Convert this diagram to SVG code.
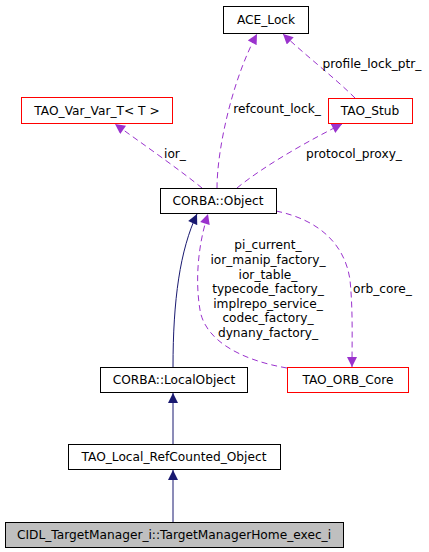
<svg xmlns="http://www.w3.org/2000/svg" width="429" height="552" viewBox="0 0 429 552">
<style>
text{font-family:"DejaVu Sans","Liberation Sans",sans-serif;font-size:12.2px;fill:#000}
.n{fill:#fff;stroke:#000;stroke-width:1}
.r{fill:#fff;stroke:#ff0000;stroke-width:1}
.g{fill:#bfbfbf;stroke:#000;stroke-width:1}
.c{text-anchor:middle}
.inh{fill:none;stroke:#191970;stroke-width:1}
.use{fill:none;stroke:#9a32cd;stroke-width:1;stroke-dasharray:6,4}
</style>
<defs>
<marker id="an" viewBox="0 0 10 10" refX="10" refY="5" markerWidth="11" markerHeight="10" markerUnits="userSpaceOnUse" orient="auto"><path d="M0,0L10,5L0,10z" fill="#191970"/></marker>
<marker id="ap" viewBox="0 0 10 10" refX="10" refY="5" markerWidth="11" markerHeight="10" markerUnits="userSpaceOnUse" orient="auto"><path d="M0,0L10,5L0,10z" fill="#9a32cd"/></marker>
</defs>
<g id="connectors">
<path class="use" d="M217,188 C217,150 232,80 257,34" marker-end="url(#ap)"/>
<text class="c" x="277" y="113">refcount_lock_</text>
<path class="use" d="M355,98 C335,78 305,55 283,34" marker-end="url(#ap)"/>
<text class="c" x="372" y="68">profile_lock_ptr_</text>
<path class="use" d="M202,188 C180,170 140,142 115,124" marker-end="url(#ap)"/>
<text class="c" x="175" y="158">ior_</text>
<path class="use" d="M237,188 C265,165 310,140 342,124" marker-end="url(#ap)"/>
<text class="c" x="354" y="158">protocol_proxy_</text>
<path class="inh" d="M173,367 C173,300 180,250 197,214" marker-end="url(#an)"/>
<path class="use" d="M287,368 C240,360 205,340 200,310 C195,280 198,245 208,214" marker-end="url(#ap)"/>
<text class="c" x="268" y="249">pi_current_</text>
<text class="c" x="268" y="264">ior_manip_factory_</text>
<text class="c" x="268" y="279">ior_table_</text>
<text class="c" x="268" y="293">typecode_factory_</text>
<text class="c" x="268" y="308">implrepo_service_</text>
<text class="c" x="268" y="322">codec_factory_</text>
<text class="c" x="268" y="337">dynany_factory_</text>
<path class="use" d="M276,211 C320,220 345,245 350,280 C353,310 352,340 352,367" marker-end="url(#ap)"/>
<text x="353" y="293">orb_core_</text>
<path class="inh" d="M173,444 L173,393" marker-end="url(#an)"/>
<path class="inh" d="M173,522 L173,470" marker-end="url(#an)"/>
</g>
<g id="ACE_Lock"><rect class="n" x="223.5" y="6.5" width="85" height="27"/><text class="c" x="266" y="24">ACE_Lock</text></g>
<g id="TAO_Var_Var_T"><rect class="r" x="21.5" y="97.5" width="151" height="26"/><text class="c" x="97" y="115">TAO_Var_Var_T&lt; T &gt;</text></g>
<g id="TAO_Stub"><rect class="r" x="328.5" y="98.5" width="84" height="25"/><text class="c" x="370" y="115">TAO_Stub</text></g>
<g id="CORBA_Object"><rect class="n" x="160.5" y="188.5" width="116" height="25"/><text class="c" x="218" y="205">CORBA::Object</text></g>
<g id="CORBA_LocalObject"><rect class="n" x="100.5" y="367.5" width="147" height="25"/><text class="c" x="174" y="384">CORBA::LocalObject</text></g>
<g id="TAO_ORB_Core"><rect class="r" x="287.5" y="367.5" width="121" height="25"/><text class="c" x="348" y="384">TAO_ORB_Core</text></g>
<g id="TAO_Local_RefCounted_Object"><rect class="n" x="68.5" y="444.5" width="212" height="25"/><text class="c" x="174" y="461">TAO_Local_RefCounted_Object</text></g>
<g id="CIDL_TargetManagerHome_exec_i"><rect class="g" x="5.5" y="522.5" width="338" height="25"/><text class="c" x="174" y="539">CIDL_TargetManager_i::TargetManagerHome_exec_i</text></g>
</svg>
